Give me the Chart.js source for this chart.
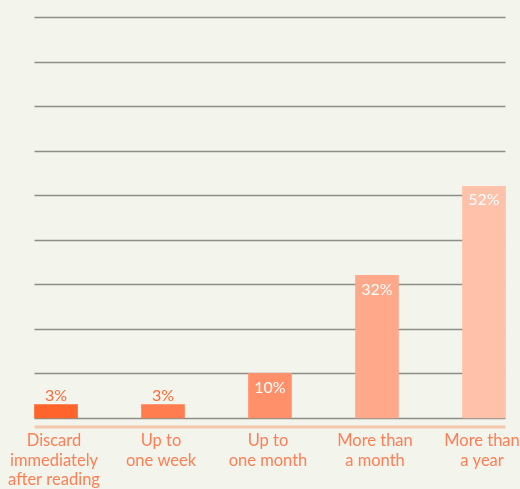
<!DOCTYPE html>
<html>
<head>
<meta charset="utf-8">
<script src="https://cdn.jsdelivr.net/npm/chart.js@4"></script>
<style>
    html, body { margin: 0; padding: 0; background: #f3f4eb; }
    #wrap { width: 520px; height: 489px; position: relative; }
</style>
</head>
<body>
<div id="wrap"><canvas id="keepChart"></canvas></div>
<script>
const categories = [
    ['Discard', 'immediately', 'after reading'],
    ['Up to', 'one week'],
    ['Up to', 'one month'],
    ['More than', 'a month'],
    ['More than', 'a year']
];
const shares = [3, 3, 10, 32, 52];
const barColors = ['#ff642d', '#ff7d4f', '#ff9069', '#ffa98a', '#ffc1aa'];
const gridSteps = [0, 10, 20, 30, 40, 50, 60, 70, 80, 90];

// horizontal rules run half a bar past the first and last category
const rules = {
    id: 'rules',
    beforeDatasetsDraw(chart) {
        const { ctx, chartArea, scales } = chart;
        const half = 21.5;
        const left = chartArea.left - half;
        const right = chartArea.right + half;
        ctx.save();
        ctx.strokeStyle = '#8d8e88';
        ctx.lineWidth = 1.3;
        gridSteps.forEach(v => {
            const y = Math.round(scales.y.getPixelForValue(v)) + 0.5;
            ctx.beginPath();
            ctx.moveTo(left, y);
            ctx.lineTo(right, y);
            ctx.stroke();
        });
        ctx.strokeStyle = '#f6c6ad';
        ctx.lineWidth = 3;
        const y0 = scales.y.getPixelForValue(0) + 9;
        ctx.beginPath();
        ctx.moveTo(left, y0);
        ctx.lineTo(right, y0);
        ctx.stroke();
        ctx.restore();
    }
};

const valueLabels = {
    id: 'valueLabels',
    afterDatasetsDraw(chart) {
        const { ctx } = chart;
        const meta = chart.getDatasetMeta(0);
        ctx.save();
        ctx.font = '16px Lato, sans-serif';
        ctx.textAlign = 'center';
        ctx.textBaseline = 'middle';
        meta.data.forEach((bar, i) => {
            const v = shares[i];
            if (v >= 10) {
                ctx.fillStyle = '#ffffff';
                ctx.fillText(v + '%', bar.x, bar.y + 14);
            } else {
                ctx.fillStyle = '#ff6a3a';
                ctx.fillText(v + '%', bar.x, bar.y - 9);
            }
        });
        ctx.restore();
    }
};

new Chart(document.getElementById('keepChart'), {
    type: 'bar',
    data: {
        labels: categories,
        datasets: [{
            data: shares,
            backgroundColor: barColors,
            barThickness: 43,
            clip: false
        }]
    },
    options: {
        responsive: true,
        maintainAspectRatio: false,
        animation: false,
        layout: { padding: { left: 56, right: 36, top: 17, bottom: 0 } },
        plugins: {
            legend: { display: false },
            tooltip: { enabled: false }
        },
        scales: {
            x: {
                offset: false,
                grid: { display: false, drawTicks: false },
                border: { display: false },
                ticks: {
                    color: '#ff7e55',
                    padding: 13,
                    labelOffset: -2,
                    autoSkip: false,
                    maxRotation: 0,
                    font: { family: 'Lato, sans-serif', size: 16.5, lineHeight: 1.18 }
                },
                afterFit(scale) {
                    scale.paddingLeft = 0;
                    scale.paddingRight = 0;
                    scale.height = 71;
                }
            },
            y: {
                min: 0,
                max: 90,
                display: false
            }
        }
    },
    plugins: [rules, valueLabels]
});
</script>
</body>
</html>
